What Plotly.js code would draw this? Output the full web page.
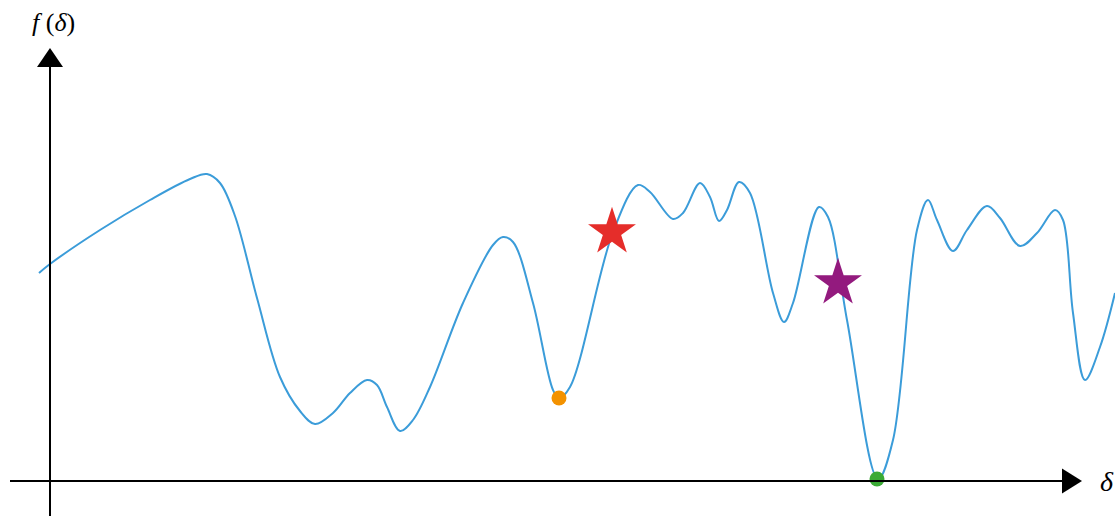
<!DOCTYPE html>
<html>
<head>
<meta charset="utf-8">
<script src="https://cdn.plot.ly/plotly-3.0.1.min.js"></script>
<style>html,body{margin:0;padding:0;background:#fff;}#chart{width:1115px;height:516px;}</style>
</head>
<body>
<div id="chart"></div>
<script>
// Curve f(δ)
const delta = [-11,0,50,100,140,157,170,185,207,230,250,265,283,300,317,327,337,350,363,380,413,443,453,463,483,503,509,520,563,588,600,623,633,650,660,669,677,689,700,723,734,743,769,778,797,828,843,867,878,887,903,917,937,950,970,987,1005,1013,1023,1035,1050,1065];
const fval  = [208,217,251,281,302,307,298,265,183,104,70,57,68,88,101,96,74,50,61,94,178,236,244,239,178,91,83,94,249,296,289,262,268,298,284,260,271,299,288,188,159,178,274,264,161,2,41,251,281,261,230,251,275,263,235,248,271,261,168,101,134,188];

// Special points
const localMinX = [509], localMinY = [83];
const globalMinX = [827], globalMinY = [2];
const redStarX = [562], redStarY = [249];
const purpleStarX = [788], purpleStarY = [198];

const traces = [
  {x: delta, y: fval, mode: 'lines', line: {color: '#3b9cd9', width: 2, shape: 'spline', smoothing: 1}, hoverinfo: 'skip'},
  {x: localMinX, y: localMinY, mode: 'markers', marker: {color: '#f39200', size: 15}},
  {x: globalMinX, y: globalMinY, mode: 'markers', marker: {color: '#3aaa35', size: 15}},
  {x: redStarX, y: redStarY, mode: 'markers', marker: {color: '#e52d2a', size: 36, symbol: 'star'}},
  {x: purpleStarX, y: purpleStarY, mode: 'markers', marker: {color: '#931a7e', size: 36, symbol: 'star'}}
];

const layout = {
  width: 1115, height: 516,
  margin: {l: 0, r: 0, t: 0, b: 0},
  paper_bgcolor: '#fff', plot_bgcolor: '#fff',
  showlegend: false,
  xaxis: {range: [-50, 1065], visible: false, fixedrange: true},
  yaxis: {range: [-35, 481], visible: false, fixedrange: true},
  shapes: [
    {type: 'line', x0: 0, x1: 0, y0: -40, y1: 416, line: {color: '#000', width: 2}},
    {type: 'path', path: 'M 0 433 L -13 414 L 13 414 Z', fillcolor: '#000', line: {color: '#000', width: 0}},
    {type: 'line', x0: -40, x1: 1014, y0: 0, y1: 0, line: {color: '#000', width: 2}},
    {type: 'path', path: 'M 1032 0 L 1012 12.5 L 1012 -12.5 Z', fillcolor: '#000', line: {color: '#000', width: 0}}
  ],
  annotations: [
    {x: 3, y: 459, text: '<i>f</i> (<i>δ</i>)', showarrow: false, font: {family: 'Liberation Serif, serif', size: 26, color: '#000'}},
    {x: 1057, y: 0, text: '<i>δ</i>', showarrow: false, font: {family: 'Liberation Serif, serif', size: 28, color: '#000'}}
  ]
};

Plotly.newPlot('chart', traces, layout, {displayModeBar: false, staticPlot: true});
</script>
</body>
</html>
